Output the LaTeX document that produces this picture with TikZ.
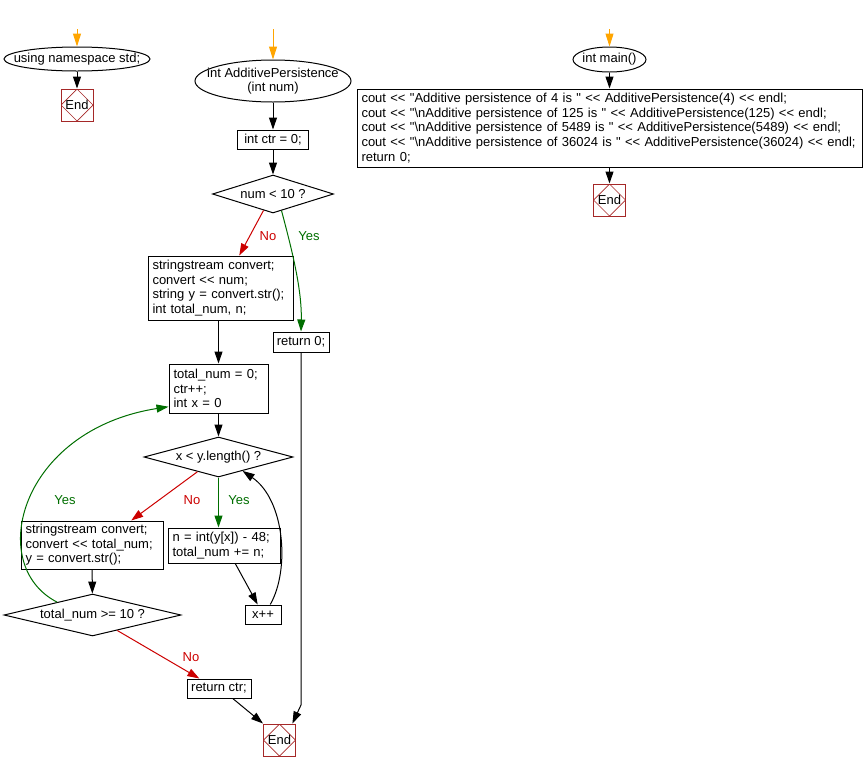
\documentclass[tikz,border=0pt]{standalone}
\usepackage{fontspec}
\setmainfont{Liberation Sans}[Ligatures=TeXOff]
\usetikzlibrary{shapes.geometric,arrows.meta}

\definecolor{endred}{RGB}{165,40,40}
\definecolor{nored}{RGB}{204,0,0}
\definecolor{yesgreen}{RGB}{0,110,0}
\definecolor{startorange}{RGB}{255,165,0}

\tikzset{
  flow/.style={font=\fontsize{13}{14.6}\selectfont, line width=1pt},
  terminal/.style={ellipse, draw, inner xsep=-14pt, inner ysep=0pt, align=center},
  stmt/.style={draw, inner sep=0pt, align=center},
  block/.style={draw, inner xsep=4.5pt, inner ysep=0pt, align=left},
  decision/.style={diamond, draw, aspect=3.5, inner sep=0pt},
  endbox/.style={draw=endred, minimum width=32pt, minimum height=32pt, inner sep=0pt,
    path picture={\draw[endred, line width=0.7pt]
      (path picture bounding box.north) -- (path picture bounding box.east) --
      (path picture bounding box.south) -- (path picture bounding box.west) -- cycle;}},
  arr/.style={-{Triangle[length=12pt,width=8pt]}},
  startarr/.style={startorange, -{Triangle[length=13pt,width=8pt]}},
  yesarr/.style={arr, yesgreen},
  noarr/.style={arr, nored},
  yeslbl/.style={text=yesgreen},
  nolbl/.style={text=nored},
}

\begin{document}
\begin{tikzpicture}[x=1pt, y=-1pt, flow]
  \useasboundingbox (0,0) rectangle (863,772);

  % using namespace std;
  \coordinate (in1) at (77,29);
  \node[terminal, minimum width=146pt, minimum height=24pt] (ns) at (77,59) {using namespace std;};
  \node[endbox] (end1) at (77,105) {End};
  \draw[startarr] (in1) -- (ns);
  \draw[arr] (ns) -- (end1);

  % int AdditivePersistence(int num)
  \coordinate (in2) at (273,29);
  \node[terminal, minimum width=156pt, minimum height=42pt] (fn) at (273,81) {int AdditivePersistence\\(int num)};
  \node[stmt, minimum width=71pt, minimum height=19pt] (init) at (273,139.5) {int ctr = 0;};
  \node[decision, minimum width=121pt, minimum height=38pt] (c1) at (273,194) {num < 10 ?};
  \draw[startarr] (in2) -- (fn);
  \draw[arr] (fn) -- (init);
  \draw[arr] (init) -- (c1);

  \node[block, text width=136pt, minimum height=64pt] (b1) at (220.5,288)
    {stringstream convert;\\convert << num;\\string y = convert.str();\\int total\_num, n;};
  \node[stmt, minimum width=56pt, minimum height=20pt] (r0) at (301,342) {return 0;};
  \draw[noarr] (c1.240) -- (b1.60);
  \draw[yesarr] (c1.297) .. controls (292,250) and (302,290) .. (r0.north);
  \node[nolbl] (no1) at (268,236) {No};
  \node[yeslbl] (yes1) at (309,236) {Yes};

  % loop over the digits
  \node[block, text width=90pt, minimum height=49pt] (b2) at (218.5,388.5) {total\_num = 0;\\ctr++;\\int x = 0};
  \node[decision, minimum width=149pt, minimum height=40pt] (c2) at (218.5,457) {x < y.length() ?};
  \draw[arr] (b2.north |- b1.south) -- (b2.north);
  \draw[arr] (b2) -- (c2);

  \node[block, text width=133pt, minimum height=48pt] (b3) at (92,545)
    {stringstream convert;\\convert << total\_num;\\y = convert.str();};
  \node[block, text width=103pt, minimum height=35pt] (b4) at (224,545.5) {n = int(y[x]) - 48;\\total\_num += n;};
  \node[stmt, minimum width=36pt, minimum height=19pt] (inc) at (263,614.5) {x++};
  \draw[noarr] (c2.215) -- (b3.32);
  \draw[yesarr] (c2.south) -- (c2.south |- b4.north);
  \draw[arr] (b4.302) -- (inc.118);
  \draw[arr] (inc.54) .. controls (290,570) and (285,500) .. (c2.330);
  \node[nolbl] (no2) at (192,500) {No};
  \node[yeslbl] (yes2) at (239,500) {Yes};

  % repeat while total_num >= 10
  \node[decision, minimum width=177pt, minimum height=40pt] (c4) at (92.5,615) {total\_num >= 10 ?};
  \draw[arr] (b3) -- (c4);
  \draw[yesarr] (c4.160) .. controls (-15,565) and (20,430) .. (b2.200);
  \node[yeslbl] (yes3) at (65,500) {Yes};

  \node[stmt, minimum width=64pt, minimum height=19pt] (rc) at (219,688.5) {return ctr;};
  \node[endbox] (end3) at (279.5,740) {End};
  \draw[noarr] (c4.328) -- (rc.153);
  \node[nolbl] (no3) at (191,657) {No};
  \draw[arr] (rc.324) -- (end3.north west);
  \coordinate (r0bend) at (301,705);
  \draw[arr] (r0.south) -- (r0bend) -- (end3.52);

  % int main()
  \coordinate (in3) at (609.5,29);
  \node[terminal, minimum width=73pt, minimum height=25pt] (mn) at (609.5,59.5) {int main()};
  \node[block, text width=496pt, minimum height=78pt] (mb) at (609.5,128)
    {cout << "Additive persistence of 4 is " << AdditivePersistence(4) << endl;\\
     cout << "\textbackslash nAdditive persistence of 125 is " << AdditivePersistence(125) << endl;\\
     cout << "\textbackslash nAdditive persistence of 5489 is " << AdditivePersistence(5489) << endl;\\
     cout << "\textbackslash nAdditive persistence of 36024 is " << AdditivePersistence(36024) << endl;\\
     return 0;};
  \node[endbox] (end2) at (609.5,200) {End};
  \draw[startarr] (in3) -- (mn);
  \draw[arr] (mn) -- (mb);
  \draw[arr] (mb) -- (end2);
\end{tikzpicture}
\end{document}
